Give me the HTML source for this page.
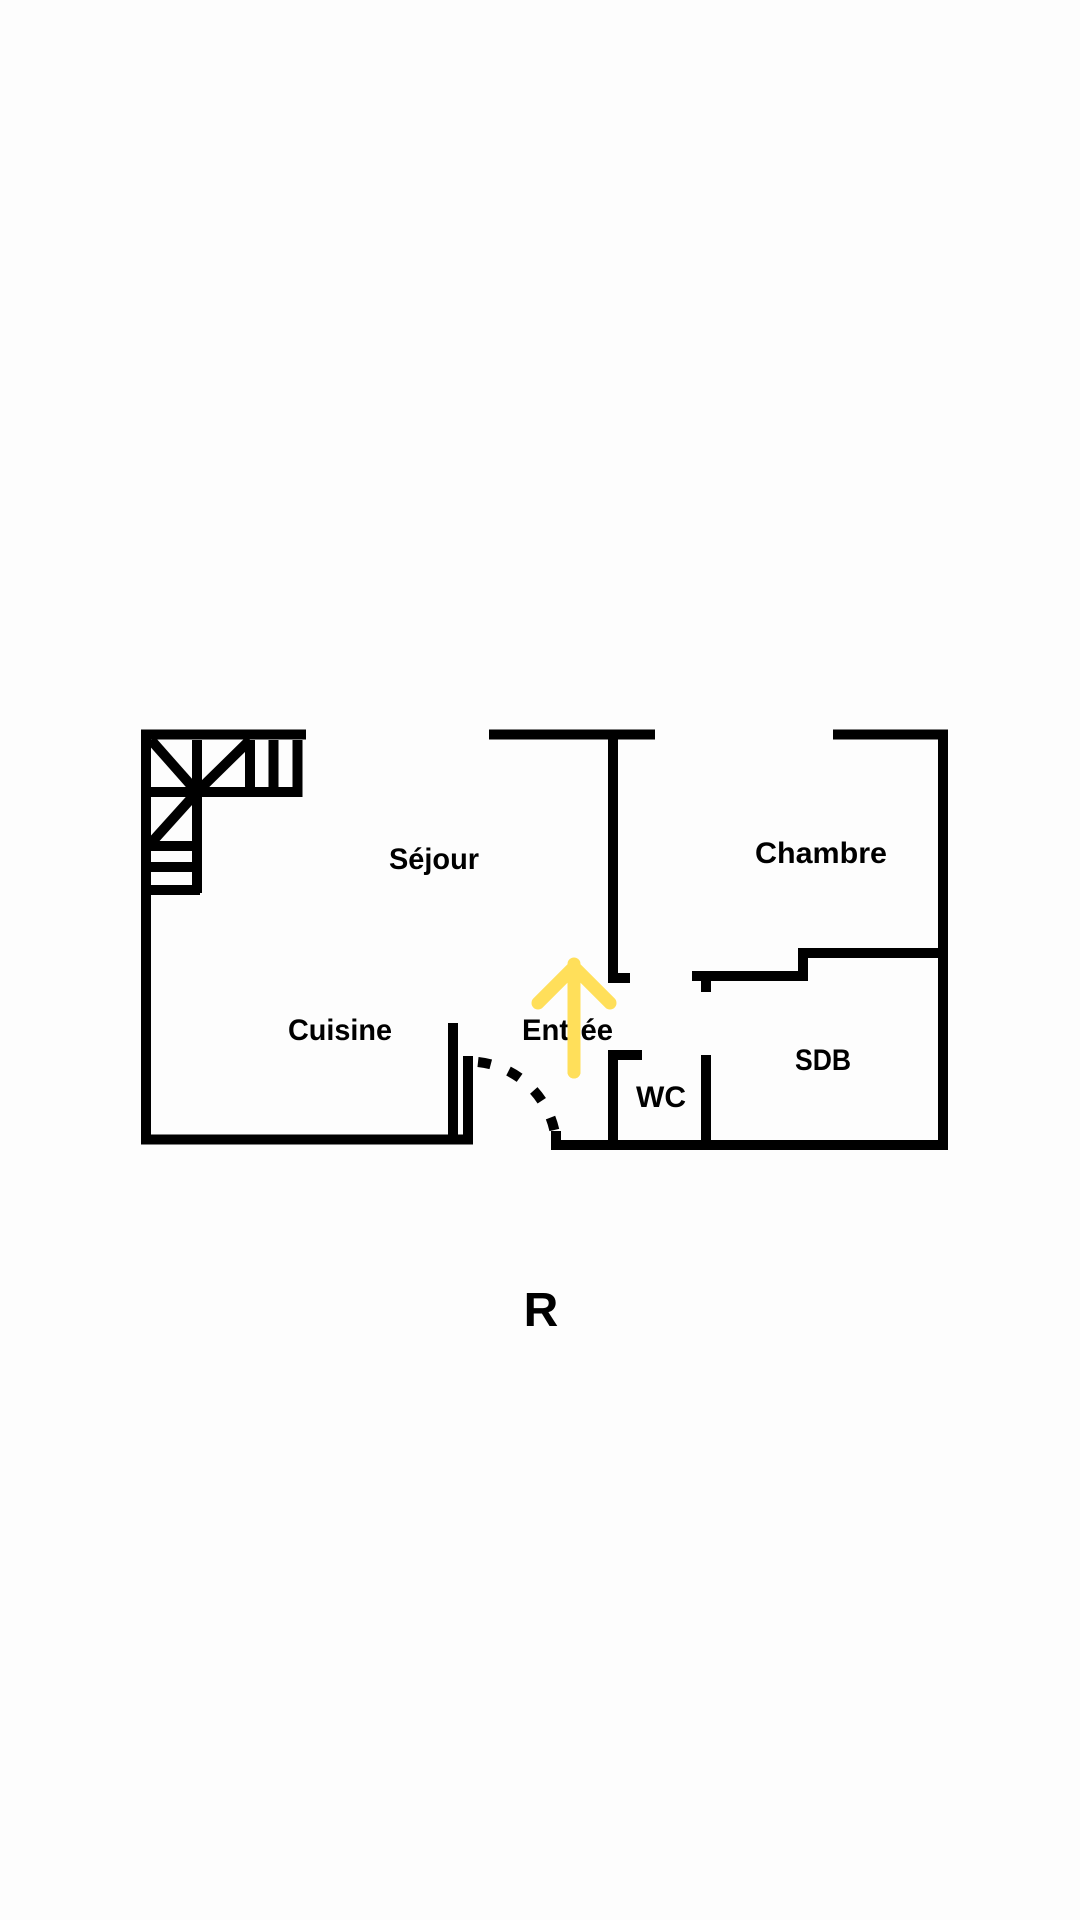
<!DOCTYPE html>
<html><head><meta charset="utf-8"><style>
html,body{margin:0;padding:0;background:#fdfdfd;}
svg{display:block}
text{font-family:"Liberation Sans",sans-serif;font-weight:bold;fill:#000}
</style></head><body>
<svg width="1080" height="1920" viewBox="0 0 1080 1920" xmlns="http://www.w3.org/2000/svg">
<rect width="1080" height="1920" fill="#fdfdfd"/>
<g stroke="#000" stroke-width="10" fill="none" stroke-linecap="butt">
<polyline points="306,734.5 146,734.5 146,1139.5 473,1139.5"/>
<polyline points="151,792 297.5,792 297.5,740"/>
<line x1="197" y1="740" x2="197" y2="893"/>
<line x1="250" y1="740" x2="250" y2="792"/>
<line x1="273.5" y1="740" x2="273.5" y2="792"/>
<line x1="151" y1="846" x2="197" y2="846"/>
<line x1="151" y1="867" x2="197" y2="867"/>
<line x1="151" y1="890" x2="200" y2="890"/>
<line x1="151" y1="740" x2="197" y2="792"/>
<line x1="250" y1="740" x2="197" y2="792"/>
<line x1="197" y1="792" x2="151" y2="843"/>
<line x1="453" y1="1023" x2="453" y2="1139"/>
<line x1="468" y1="1056" x2="468" y2="1139"/>
<line x1="489" y1="734.5" x2="655" y2="734.5"/>
<polyline points="613,734.5 613,978 630,978"/>
<polyline points="833,734.5 943,734.5 943,1145 551,1145"/>
<line x1="556" y1="1131" x2="556" y2="1145"/>
<polyline points="943,953 803,953 803,976 692,976"/>
<line x1="706" y1="976" x2="706" y2="992"/>
<polyline points="613,1145 613,1055 642,1055"/>
<line x1="706" y1="1055" x2="706" y2="1145"/>
<path d="M478,1062 A88,88 0 0 1 556,1140" stroke-dasharray="13,19"/>
</g>
<g stroke="#FFDF5A" stroke-width="13" fill="none" stroke-linecap="round" stroke-linejoin="round">
<line x1="574" y1="1072" x2="574" y2="964"/>
<polyline points="538,1003 574,967 610,1003"/>
</g>
<text x="389" y="869" font-size="30" textLength="90" lengthAdjust="spacingAndGlyphs">Séjour</text>
<text x="288" y="1040" font-size="30" textLength="104" lengthAdjust="spacingAndGlyphs">Cuisine</text>
<text x="522" y="1040" font-size="30" textLength="91" lengthAdjust="spacingAndGlyphs">Entrée</text>
<text x="755" y="863" font-size="30" textLength="132" lengthAdjust="spacingAndGlyphs">Chambre</text>
<text x="795" y="1070" font-size="30" textLength="56" lengthAdjust="spacingAndGlyphs">SDB</text>
<text x="636" y="1107" font-size="30" textLength="50" lengthAdjust="spacingAndGlyphs">WC</text>
<g stroke="#FFDF5A" stroke-width="13" fill="none" stroke-linecap="round">
<line x1="574" y1="1072" x2="574" y2="1010"/>
</g>
<text x="541" y="1326" font-size="48" text-anchor="middle">R</text>
</svg>
</body></html>
